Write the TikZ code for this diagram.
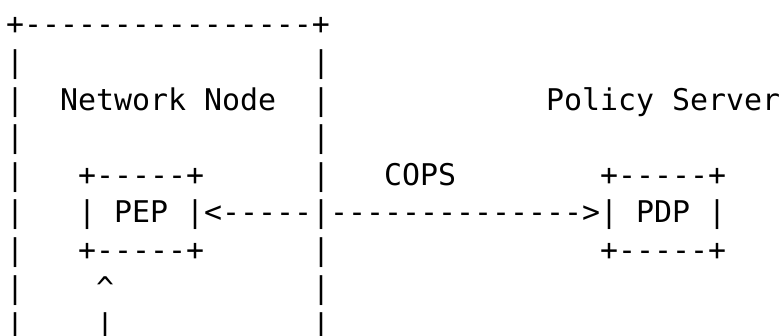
\documentclass[tikz,border=0pt]{standalone}
\usepackage{fontspec}
\newfontfamily\asciimono{DejaVu Sans Mono}
\begin{document}
\begin{tikzpicture}[x=1pt,y=-1pt,
  ch/.style={anchor=base west,inner sep=0pt,outer sep=0pt,font=\asciimono\fontsize{29.9}{36}\selectfont,text=black}]
\useasboundingbox (0,0) rectangle (783,335);
\def\cx#1{6+18*#1}
\def\ry#1{34.8+37.6*(#1-1)}
% row 1
\node[ch] (r1a) at ({\cx{0}},{\ry{1}}) {+----------------+};
% row 2
\node[ch] (r2a) at ({\cx{0}},{\ry{2}}) {|};
\node[ch] (r2b) at ({\cx{17}},{\ry{2}}) {|};
% row 3
\node[ch] (r3a) at ({\cx{0}},{\ry{3}}) {|};
\node[ch] (nn) at ({\cx{3}},{\ry{3}}) {Network Node};
\node[ch] (r3b) at ({\cx{17}},{\ry{3}}) {|};
\node[ch] (ps) at ({\cx{30}},{\ry{3}}) {Policy Server};
% row 4
\node[ch] (r4a) at ({\cx{0}},{\ry{4}}) {|};
\node[ch] (r4b) at ({\cx{17}},{\ry{4}}) {|};
% row 5
\node[ch] (r5a) at ({\cx{0}},{\ry{5}}) {|};
\node[ch] (pept) at ({\cx{4}},{\ry{5}}) {+-----+};
\node[ch] (r5b) at ({\cx{17}},{\ry{5}}) {|};
\node[ch] (cops) at ({\cx{21}},{\ry{5}}) {COPS};
\node[ch] (pdpt) at ({\cx{33}},{\ry{5}}) {+-----+};
% row 6
\node[ch] (r6a) at ({\cx{0}},{\ry{6}}) {|};
\node[ch] (pepl) at ({\cx{4}},{\ry{6}}) {|};
\node[ch] (pep) at ({\cx{6}},{\ry{6}}) {PEP};
\node[ch] (link) at ({\cx{10}},{\ry{6}}) {|<-----|-------------->|};
\node[ch] (pdp) at ({\cx{35}},{\ry{6}}) {PDP};
\node[ch] (pdpr) at ({\cx{39}},{\ry{6}}) {|};
% row 7
\node[ch] (r7a) at ({\cx{0}},{\ry{7}}) {|};
\node[ch] (pepb) at ({\cx{4}},{\ry{7}}) {+-----+};
\node[ch] (r7b) at ({\cx{17}},{\ry{7}}) {|};
\node[ch] (pdpb) at ({\cx{33}},{\ry{7}}) {+-----+};
% row 8
\node[ch] (r8a) at ({\cx{0}},{\ry{8}}) {|};
\node[ch] (up) at ({\cx{5}},{\ry{8}}) {\textasciicircum};
\node[ch] (r8b) at ({\cx{17}},{\ry{8}}) {|};
% row 9
\node[ch] (r9a) at ({\cx{0}},{\ry{9}}) {|};
\node[ch] (upl) at ({\cx{5}},{\ry{9}}) {|};
\node[ch] (r9b) at ({\cx{17}},{\ry{9}}) {|};
\end{tikzpicture}
\end{document}
